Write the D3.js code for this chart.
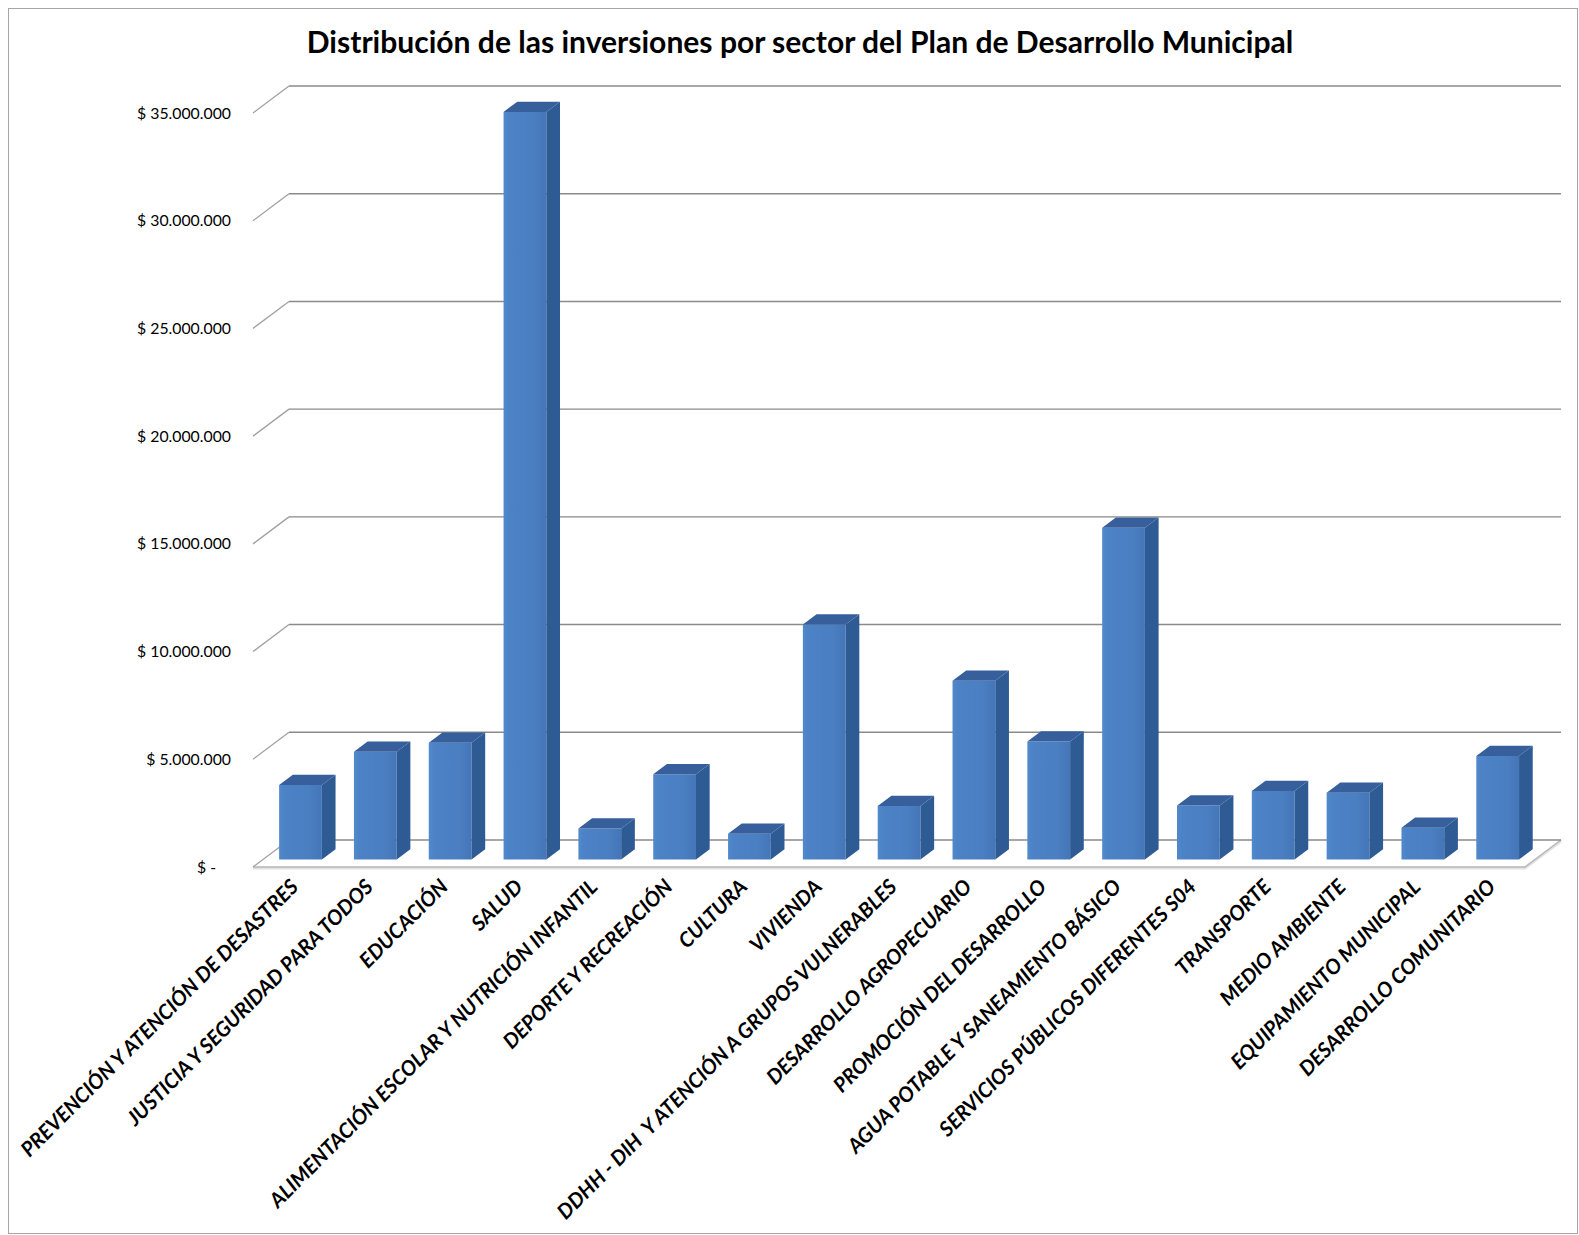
<!DOCTYPE html>
<html lang="es">
<head>
<meta charset="utf-8">
<title>Distribución de las inversiones por sector</title>
<script src="https://cdn.jsdelivr.net/npm/d3@7"></script>
<style>
  html, body { margin: 0; padding: 0; background: #ffffff; }
  svg { display: block; }
  text { font-family: Lato, "Open Sans", "Liberation Sans", sans-serif; fill: #000; white-space: pre; }
</style>
</head>
<body>
<svg id="chart" width="1579" height="1235"></svg>
<script>
// Sector names (category axis)
const sectores = [
  "PREVENCIÓN Y ATENCIÓN DE DESASTRES",
  "JUSTICIA Y SEGURIDAD PARA TODOS",
  "EDUCACIÓN",
  "SALUD",
  "ALIMENTACIÓN ESCOLAR Y NUTRICIÓN INFANTIL",
  "DEPORTE Y RECREACIÓN",
  "CULTURA",
  "VIVIENDA",
  "DDHH - DIH  Y ATENCIÓN A GRUPOS VULNERABLES",
  "DESARROLLO AGROPECUARIO",
  "PROMOCIÓN DEL DESARROLLO",
  "AGUA POTABLE Y SANEAMIENTO BÁSICO",
  "SERVICIOS PÚBLICOS DIFERENTES S04",
  "TRANSPORTE",
  "MEDIO AMBIENTE",
  "EQUIPAMIENTO MUNICIPAL",
  "DESARROLLO COMUNITARIO"
];

// Investment per sector (pesos)
const inversiones = [
  3450000, 5000000, 5420000, 34700000, 1440000, 3950000, 1190000, 10900000,
  2480000, 8290000, 5470000, 15400000, 2500000, 3180000, 3100000, 1470000, 4800000
];

// Value axis ticks
const ticksValor = [0, 5000000, 10000000, 15000000, 20000000, 25000000, 30000000, 35000000];

const titulo = "Distribución de las inversiones por sector del Plan de Desarrollo Municipal";

// ---- layout ----
const svg = d3.select("#chart");
const W = 1579, H = 1235;

const floorFront = 867;          // y of floor front edge
const floorLeft = 253, floorRight = 1525;
const depthX = 36, depthY = -27; // oblique offset from front to back wall
const barFront = 0.28, barBack = 0.66; // bar depth as fraction of floor depth

// value scale measured on the back wall
const y = d3.scaleLinear().domain([0, 35000000]).range([floorFront + depthY, 86]);
// category scale measured on the floor front edge (gap width 75%)
const x = d3.scaleBand().domain(sectores).range([floorLeft, floorRight])
  .paddingInner(0.75 / 1.75).paddingOuter(0.375 / 1.75);

// project a point at value v, front x, depth fraction f
const P = (xf, v, f) => [xf + f * depthX, y(v) + (1 - f) * (-depthY)];

const loc = d3.formatLocale({ decimal: ",", thousands: ".", grouping: [3], currency: ["$ ", ""] });
const fmt = loc.format("$,.0f");
const fmtTick = v => v === 0 ? "$ -" : fmt(v);

// chart border
svg.append("rect")
  .attr("x", 8.5).attr("y", 8.5).attr("width", W - 10).attr("height", H - 10)
  .attr("fill", "#fff").attr("stroke", "#a6a6a6").attr("stroke-width", 1);

// title
const tTitle = svg.append("text")
  .attr("x", 800).attr("y", 53)
  .attr("text-anchor", "middle")
  .attr("font-weight", "bold")
  .attr("font-size", 28)
  .text(titulo);
{
  const len = tTitle.node().getComputedTextLength();
  tTitle.attr("font-size", 28 * 987 / len);
}

// floor
const gFloor = svg.append("g");
gFloor.append("path")
  .attr("d", d3.line()([[floorLeft, floorFront], [floorRight, floorFront],
                        [floorRight + depthX, floorFront + depthY], [floorLeft + depthX, floorFront + depthY]]) + "Z")
  .attr("fill", "#ffffff");
gFloor.append("path")
  .attr("d", d3.line()([[floorLeft, floorFront + 1], [floorRight, floorFront + 1],
                        [floorRight + depthX, floorFront + depthY + 1]]))
  .attr("fill", "none").attr("stroke", "#e2e2e2").attr("stroke-width", 3);
gFloor.append("path")
  .attr("d", d3.line()([[floorLeft, floorFront], [floorRight, floorFront],
                        [floorRight + depthX, floorFront + depthY]]))
  .attr("fill", "none").attr("stroke", "#b8b8b8").attr("stroke-width", 1.5);

// gridlines: side wall diagonals + back wall horizontals
const gGrid = svg.append("g");
gGrid.selectAll("line.side").data(ticksValor).join("line")
  .attr("class", "side")
  .attr("x1", floorLeft).attr("y1", d => y(d) - depthY)
  .attr("x2", floorLeft + depthX).attr("y2", d => y(d))
  .attr("stroke", "#a0a0a0").attr("stroke-width", 1.3);
gGrid.selectAll("line.back").data(ticksValor).join("line")
  .attr("class", "back")
  .attr("x1", floorLeft + depthX).attr("y1", d => y(d))
  .attr("x2", floorRight + depthX).attr("y2", d => y(d))
  .attr("stroke", "#8a8a8a").attr("stroke-width", 1.4);

// value axis labels
const gY = svg.append("g");
const yLab = gY.selectAll("text").data(ticksValor).join("text")
  .attr("x", floorLeft - 22)
  .attr("y", d => y(d) - depthY)
  .attr("dx", d => d === 0 ? -15 : 0)
  .attr("dy", "0.35em")
  .attr("text-anchor", "end")
  .attr("font-size", 16)
  .text(fmtTick);
{
  const len = yLab.filter(d => d === 35000000).node().getComputedTextLength();
  yLab.attr("font-size", 16 * 94 / len);
}

// bars
const defs = svg.append("defs");
const grad = defs.append("linearGradient").attr("id", "frente")
  .attr("x1", 0).attr("x2", 1).attr("y1", 0).attr("y2", 0);
grad.append("stop").attr("offset", 0).attr("stop-color", "#5289cc");
grad.append("stop").attr("offset", 0.12).attr("stop-color", "#4c82c6");
grad.append("stop").attr("offset", 0.7).attr("stop-color", "#4a7fc2");
grad.append("stop").attr("offset", 1).attr("stop-color", "#4476b9");

const datos = sectores.map((s, i) => ({ s, v: inversiones[i] }));
const bw = x.bandwidth();
const gBars = svg.append("g");
const bar = gBars.selectAll("g").data(datos).join("g");

// front face
bar.append("path")
  .attr("d", d => {
    const x0 = x(d.s);
    return d3.line()([P(x0, 0, barFront), P(x0 + bw, 0, barFront),
                      P(x0 + bw, d.v, barFront), P(x0, d.v, barFront)]) + "Z";
  })
  .attr("fill", "url(#frente)");
// right side face
bar.append("path")
  .attr("d", d => {
    const x1 = x(d.s) + bw;
    return d3.line()([P(x1, 0, barFront), P(x1, 0, barBack),
                      P(x1, d.v, barBack), P(x1, d.v, barFront)]) + "Z";
  })
  .attr("fill", "#2f5b94");
// top face
bar.append("path")
  .attr("d", d => {
    const x0 = x(d.s);
    return d3.line()([P(x0, d.v, barFront), P(x0 + bw, d.v, barFront),
                      P(x0 + bw, d.v, barBack), P(x0, d.v, barBack)]) + "Z";
  })
  .attr("fill", "#365f9c");

// category labels, rotated
const gX = svg.append("g");
const xLab = gX.selectAll("text").data(sectores).join("text")
  .attr("transform", d => `translate(${x(d) + x.bandwidth() / 2 + 4},${floorFront + 16}) rotate(-45)`)
  .attr("text-anchor", "end")
  .attr("dy", "0.35em")
  .attr("font-weight", "bold")
  .attr("font-style", "italic")
  .attr("font-size", 16)
  .text(d => d);
{
  const len = xLab.filter((d, i) => i === 4).node().getComputedTextLength();
  xLab.attr("font-size", 16 * 454 / len);
}
</script>
</body>
</html>
